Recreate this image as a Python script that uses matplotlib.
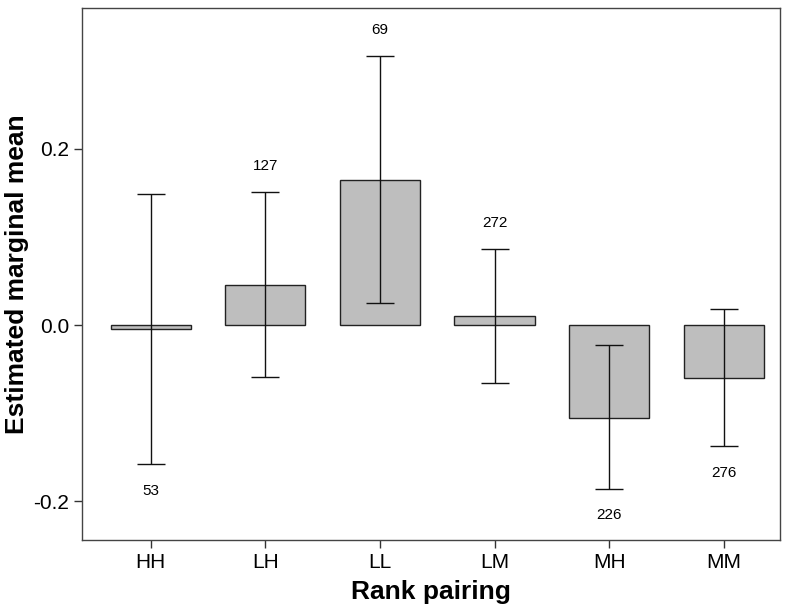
import numpy as np
import matplotlib.pyplot as plt

plt.rcParams['font.family'] = ['Liberation Sans', 'DejaVu Sans']

pairings = ["HH", "LH", "LL", "LM", "MH", "MM"]
means = [-0.004, 0.046, 0.165, 0.010, -0.105, -0.060]
ci_low = [-0.158, -0.059, 0.025, -0.066, -0.186, -0.1375]
ci_high = [0.149, 0.151, 0.305, 0.086, -0.023, 0.018]
counts = [53, 127, 69, 272, 226, 276]

x = np.arange(len(pairings))
means_arr = np.array(means)
err = [means_arr - np.array(ci_low), np.array(ci_high) - means_arr]

fig = plt.figure(figsize=(8, 6.11), dpi=100)
ax = fig.add_axes([0.1025, 0.116, 0.8725, 0.871])

ax.bar(x, means, width=0.7, color="#bebebe", edgecolor="#222222", linewidth=1.0, zorder=2)
ax.errorbar(x, means, yerr=err, fmt="none", ecolor="#111111", elinewidth=1.0,
            capsize=10, capthick=1.0, zorder=3)

# sample sizes above/below the intervals
for xi, m, lo, hi, n in zip(x, means, ci_low, ci_high, counts):
    if m < 0:
        ax.annotate(str(n), (xi, lo), xytext=(0, -19), textcoords="offset points",
                    ha="center", va="center", fontsize=11)
    else:
        ax.annotate(str(n), (xi, hi), xytext=(0, 19), textcoords="offset points",
                    ha="center", va="center", fontsize=11)

ax.set_xlim(-0.6, 5.49)
ax.set_ylim(-0.244, 0.36)
ax.set_xticks(x)
ax.set_xticklabels(pairings)
ax.set_yticks([-0.2, 0.0, 0.2])
ax.set_yticklabels(["-0.2", "0.0", "0.2"])
ax.tick_params(labelsize=15, length=6, width=1.0, color="#333333", pad=3)

for s in ax.spines.values():
    s.set_color("#444444")
    s.set_linewidth(1.0)

ax.set_xlabel("Rank pairing", fontsize=19, fontweight="bold", labelpad=6)
ax.set_ylabel("Estimated marginal mean", fontsize=19, fontweight="bold", labelpad=3)

fig.savefig("out.png", dpi=100)
